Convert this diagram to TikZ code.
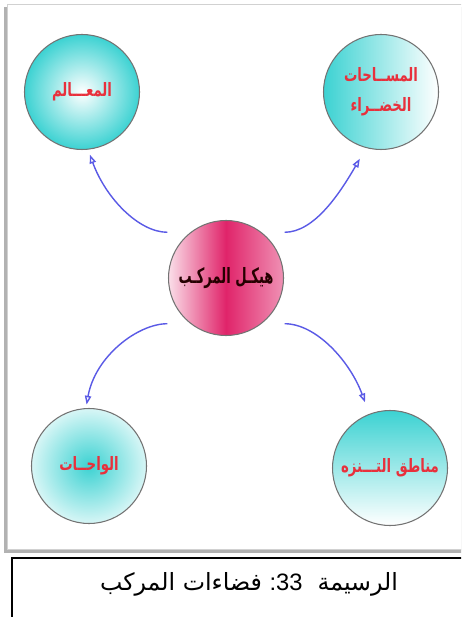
\documentclass[tikz,border=0pt]{standalone}
\usepackage{fontspec}
\setmainfont{Liberation Sans}
\newfontfamily\arabicfont[Script=Arabic]{DejaVu Sans}
\newfontfamily\arabicnarrow[Script=Arabic,FakeStretch=0.72]{DejaVu Sans}
\newfontfamily\arabictight[Script=Arabic,FakeStretch=0.62]{DejaVu Sans}
\TeXXeTstate=1
\usetikzlibrary{arrows.meta}
\definecolor{lagoon}{HTML}{3CD2D2}
\definecolor{hubred}{HTML}{E0246A}
\definecolor{labelred}{HTML}{E8303C}
\definecolor{linkblue}{HTML}{5A5AE6}

\begin{document}
\begin{tikzpicture}[x=0.02cm,y=-0.02cm]
\tikzset{
  placenode/.style={circle,draw=black!55,line width=0.6pt,minimum size=2.3cm,inner sep=0pt,
    align=center,text=labelred,font=\arabicnarrow\bfseries\fontsize{10.5}{17}\selectfont},
  hubnode/.style={placenode,text=black!85!red,font=\arabictight\bfseries\fontsize{12}{17}\selectfont},
  link/.style={draw=linkblue,line width=0.8pt,-{Triangle[open,length=5pt,width=3.6pt]}}
}
\useasboundingbox (0,0) rectangle (461,617);
\clip (0,0) rectangle (461,617);
% panel with its shadow
\fill[black!30] (4,7) rectangle (470,553);
\fill[white] (7,4) rectangle (470,549);
\draw[black!18] (7,4) rectangle (470,549);
% caption box
\draw[line width=0.8pt] (12,558) rectangle (475,630);
\node[font=\arabicfont\fontsize{13.5}{16}\selectfont] (n_cap) at (249,584)
  {\beginR الرسيمة\ \ \beginL{\rmfamily:33}\endL{} فضاءات المركب\endR};

\node[placenode,inner color=white,outer color=lagoon] (n_TL) at (82,92) {\beginR المعـــالم\endR};
\node[placenode,left color=lagoon,right color=white] (n_TR) at (381,92)
  {\beginR المســاحات\endR\\\beginR الخضــراء\endR};
\node[hubnode,left color=hubred!15!white,right color=hubred!50!white,middle color=hubred] (n_C) at (226,278)
  {\beginR هيكـل المركـب\endR};
\node[placenode,inner color=lagoon,outer color=lagoon!20!white] (n_BL) at (89,466) {\beginR الواحــات\endR};
\node[placenode,top color=lagoon,bottom color=white] (n_BR) at (390,468) {\beginR مناطق التـــنزه\endR};

\draw[link,shorten <=13pt,shorten >=3pt] (n_C.128) to[out=180,in=-70] (n_TL.-84);
\draw[link,shorten <=13pt,shorten >=7pt] (n_C.52) to[out=0,in=-120] (n_TR.-105);
\draw[link,shorten <=13pt,shorten >=2pt] (n_C.-128) to[out=180,in=80] (n_BL.93);
\draw[link,shorten <=13pt,shorten >=7pt] (n_C.-52) to[out=0,in=110] (n_BR.111);
\end{tikzpicture}
\end{document}
